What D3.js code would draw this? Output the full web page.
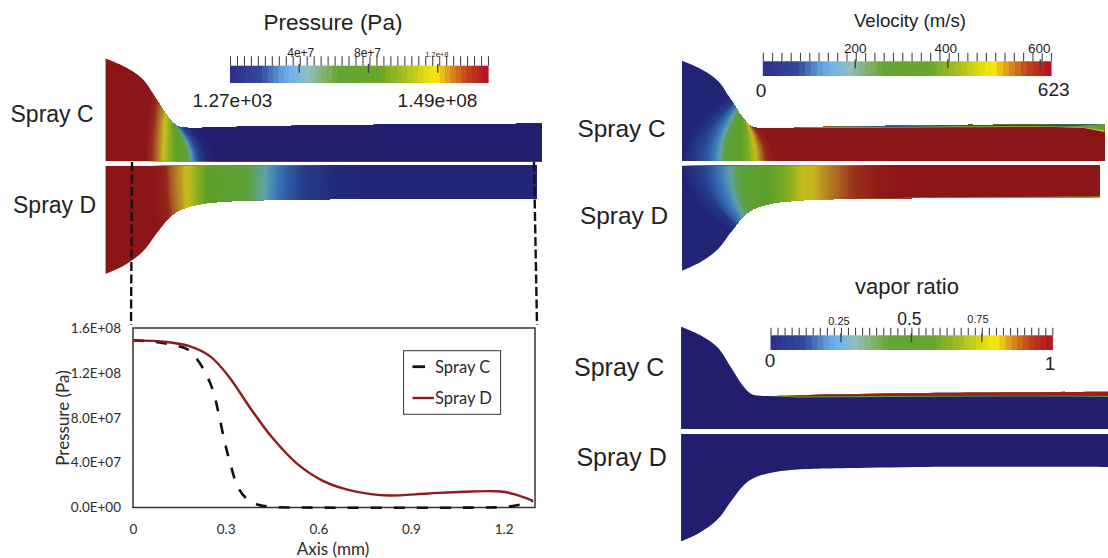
<!DOCTYPE html>
<html>
<head>
<meta charset="utf-8">
<script src="https://cdn.jsdelivr.net/npm/d3@7"></script>
<style>
    body { margin: 0; background: #fff; }
    svg { display: block; }
    text { fill: #222; font-family: "Liberation Sans", Arial, sans-serif; }
    .chart text { font-family: Lato, sans-serif; fill: #2b2b2b; }
</style>
</head>
<body>
<div id="chart"></div>
<script>
// line chart: pressure along the axis
const axisMm = [0, 0.067, 0.142, 0.177, 0.2, 0.229, 0.258, 0.277, 0.298, 0.315, 0.339, 0.367, 0.402, 0.448, 0.55, 1.13, 1.21, 1.257, 1.295];
const sprayCPressure = [1.49e8, 1.478e8, 1.442e8, 1.41e8, 1.347e8, 1.228e8, 1.05e8, 0.84e8, 0.572e8, 0.393e8, 0.185e8, 0.08e8, 0.027e8, 0.006e8, 0, 0, 0.006e8, 0.027e8, 0.06e8];
const axisMmD = [0, 0.1, 0.18, 0.25, 0.31, 0.38, 0.448, 0.53, 0.61, 0.68, 0.77, 0.83, 0.957, 1.07, 1.19, 1.234, 1.295];
const sprayDPressure = [1.49e8, 1.478e8, 1.44e8, 1.347e8, 1.168e8, 0.885e8, 0.632e8, 0.393e8, 0.244e8, 0.17e8, 0.119e8, 0.107e8, 0.125e8, 0.14e8, 0.143e8, 0.119e8, 0.06e8];
const xTicks = [0, 0.3, 0.6, 0.9, 1.2];
const xTickLabels = ["0", "0.3", "0.6", "0.9", "1.2"];
const yTicks = [0, 4e7, 8e7, 1.2e8, 1.6e8];
const yTickLabels = ["0.0E+00", "4.0E+07", "8.0E+07", "1.2E+08", "1.6E+08"];

// nozzle walls, axial position and radius in mm
const wallAxialC = [-0.085, -0.023, 0.035, 0.08, 0.116, 0.145, 0.174, 0.38, 0.724, 1.319];
const wallRadiusC = [0.332, 0.305, 0.265, 0.198, 0.143, 0.114, 0.108, 0.112, 0.117, 0.121];
const wallAxialD = [-0.085, -0.023, 0.035, 0.08, 0.122, 0.161, 0.219, 0.322, 0.438, 0.724, 1.303];
const wallRadiusD = [0.349, 0.32, 0.277, 0.217, 0.165, 0.14, 0.124, 0.114, 0.111, 0.107, 0.107];
const vaporWallAxialD = [-0.085, -0.023, 0.035, 0.08, 0.122, 0.161, 0.219, 0.322, 0.438, 0.724, 1.33];

// contour fields: normalised value on the axis, and how far an isoline leans at the wall
const pressureAxialC = [-0.09, 0.04, 0.06, 0.09, 0.1, 0.125, 0.16, 0.18, 0.195, 0.21, 0.24, 0.27, 1.4];
const pressureValueC = [1, 1, 0.93, 0.8, 0.74, 0.58, 0.44, 0.34, 0.24, 0.14, 0.03, 0, 0];
const pressureBendC = [0.005, 0.005, 0.005, 0.005, 0.004, 0, -0.02, -0.035, -0.05, -0.055, -0.06, -0.06, 0];
const pressureAxialD = [-0.09, 0.06, 0.1, 0.12, 0.155, 0.175, 0.2, 0.235, 0.32, 0.37, 0.42, 0.455, 0.5, 0.56, 0.66, 0.8, 1.4];
const pressureValueD = [1, 1, 0.96, 0.88, 0.8, 0.74, 0.64, 0.52, 0.42, 0.36, 0.29, 0.24, 0.17, 0.1, 0.04, 0.02, 0.02];
const pressureBendD = [0.005, 0.005, 0.005, 0.005, 0.004, 0.002, 0, 0, -0.004, -0.005, -0.005, -0.005, -0.005, -0.005, 0, 0, 0];
const velocityAxialC = [-0.09, -0.082, -0.032, 0, 0.035, 0.067, 0.134, 0.157, 0.174, 0.2, 0.224, 1.4];
const velocityValueC = [0.02, 0.03, 0.12, 0.17, 0.27, 0.4, 0.58, 0.74, 0.84, 0.96, 1, 1];
const velocityBendC = [0.04, 0.04, 0.04, 0.03, 0.025, 0.018, -0.005, -0.02, -0.03, -0.045, -0.05, 0];
const velocityAxialD = [-0.09, -0.082, -0.032, 0, 0.067, 0.09, 0.134, 0.257, 0.317, 0.347, 0.39, 0.476, 0.566, 0.64, 1.4];
const velocityValueD = [0.02, 0.03, 0.1, 0.15, 0.27, 0.33, 0.42, 0.58, 0.73, 0.76, 0.82, 0.91, 0.98, 1, 1];
const velocityBendD = [0.04, 0.04, 0.04, 0.03, 0.02, 0.015, 0.01, 0, 0, 0, 0, 0, 0, 0, 0];
const vaporAxial = [-0.09, 1.4];
const vaporValue = [0, 0];
const vaporBend = [0, 0];

// thin layers hugging the wall: axial position and thickness in mm
const vaporLayerAxial = [0.17, 0.3, 0.6, 0.9, 1.2, 1.4];
const vaporRedThick = [0, 0.005, 0.008, 0.01, 0.012, 0.015];
const vaporGreenThick = [0, 0.008, 0.011, 0.013, 0.015, 0.018];
const velocityLayerAxial = [0.17, 0.4, 0.8, 1.15, 1.25, 1.32];
const velocityYellowThick = [0, 0.003, 0.006, 0.008, 0.012, 0.026];
const velocityGreenThick = [0, 0.002, 0.005, 0.007, 0.01, 0.02];
const velocityBlueAxial = [0.4, 0.6, 0.9, 1.1, 1.19, 1.3];
const velocityBlueThick = [0, 0.002, 0.003, 0.004, 0.006, 0.001];
const velocityLayerAxialD = [0.3, 0.7, 1.0, 1.303];
const velocityLayerThickD = [0.001, 0.002, 0.003, 0.005];

// colour tables
const fieldStops = [0, 0.12, 0.22, 0.28, 0.36, 0.5, 0.62, 0.72, 0.76, 0.84, 0.92, 1];
const fieldColors = ["#211e70", "#27408f", "#3a78b8", "#5fa3a8", "#5fa03a", "#5ca02a", "#8eb020", "#c0bd1c", "#c8b820", "#b07a24", "#982f1c", "#8c1518"];
const legendStops = [0, 0.12, 0.2, 0.24, 0.3, 0.38, 0.42, 0.58, 0.68, 0.78, 0.8, 0.85, 0.92, 1];
const legendColors = ["#2b2f8c", "#34479b", "#5f9fd8", "#6fb4e8", "#8fbfc0", "#7fae5a", "#62a533", "#6aa62c", "#a9bf1f", "#f0e40f", "#f6e610", "#e09520", "#c0401c", "#b30f22"];

const fieldColor = d3.scaleLinear().domain(fieldStops).range(fieldColors);
const legendColor = d3.scaleLinear().domain(legendStops).range(legendColors);

const svg = d3.select("#chart").append("svg")
    .attr("width", 1108)
    .attr("height", 558);

function nozzleScales(panel) {
    let x = d3.scaleLinear().domain([0, 1]).range([panel.x0, panel.x0 + panel.xScale]);
    let r = d3.scaleLinear().domain([0, 1]).range([panel.axisY, panel.axisY + panel.dir * panel.rScale]);
    return {x: x, r: r};
}

function drawNozzle(panel, id) {
    let s = nozzleScales(panel);
    let wall = d3.scaleLinear().domain(panel.wallAxial).range(panel.wallRadius);
    let first = panel.wallAxial[0];
    let last = panel.wallAxial[panel.wallAxial.length - 1];

    let outline = d3.area()
        .x(d => s.x(d[0]))
        .y0(s.r(0))
        .y1(d => s.r(d[1]))
        .curve(d3.curveCatmullRom);

    svg.append("clipPath").attr("id", id)
        .append("path")
        .attr("d", outline(d3.zip(panel.wallAxial, panel.wallRadius)));

    let g = svg.append("g").attr("clip-path", "url(#" + id + ")");

    let value = d3.scaleLinear().domain(panel.fieldAxial).range(panel.fieldValue).clamp(true);
    let bend = d3.scaleLinear().domain(panel.fieldAxial).range(panel.fieldBend).clamp(true);

    g.append("rect")
        .attr("x", s.x(first) - 2)
        .attr("y", Math.min(s.r(0), s.r(0.4)))
        .attr("width", s.x(last) - s.x(first) + 4)
        .attr("height", Math.abs(s.r(0.4) - s.r(0)))
        .attr("fill", fieldColor(value(-0.1)));

    // each band runs from its isoline to the far end, painted left to right
    let bandLine = d3.line().x(d => s.x(d[0])).y(d => s.r(d[1]));
    let prev = fieldColor(value(-0.1));
    d3.range(-0.1, 1.36, 0.004).forEach(a => {
        let col = fieldColor(value(a));
        if (col === prev) return;
        prev = col;
        let b = bend(a);
        let pts = d3.range(0, 0.38, 0.02).map(rr => {
            let t = (b < 0 ? Math.min(rr, 0.13) : rr) / 0.11;
            return [a + b * t * t, rr];
        });
        pts.push([1.5, 0.36], [1.5, 0]);
        g.append("path").attr("d", bandLine(pts)).attr("fill", col);
    });

    (panel.layers || []).forEach(layer => {
        let band = d3.area()
            .x(d => s.x(d[0]))
            .y0(d => s.r(wall(d[0]) + 0.004))
            .y1(d => s.r(wall(d[0]) - d[1]));
        g.append("path")
            .attr("d", band(d3.zip(layer.axial, layer.thick)))
            .attr("fill", layer.color);
    });
}

function drawColorBar(bar) {
    let x = d3.scaleLinear().domain([0, bar.max]).range([bar.x0, bar.x1]);
    let t = d3.scaleLinear().domain([0, 1]).range([bar.x0, bar.x1]);

    svg.selectAll(null)
        .data(d3.range(48))
        .enter()
        .append("rect")
        .attr("x", d => t(d / 48))
        .attr("y", bar.y0)
        .attr("width", (bar.x1 - bar.x0) / 48 + 0.6)
        .attr("height", bar.y1 - bar.y0)
        .attr("fill", d => legendColor((d + 0.5) / 48));

    let minor = d3.axisTop(t)
        .tickValues(d3.range(bar.minor + 1).map(i => i / bar.minor))
        .tickSize(bar.tick)
        .tickSizeOuter(0)
        .tickFormat("");
    let g = svg.append("g")
        .attr("transform", "translate(0," + bar.y0 + ")")
        .call(minor);
    g.select(".domain").remove();
    g.selectAll("line").attr("stroke", "#444").attr("stroke-width", 1.1);

    svg.selectAll(null)
        .data(bar.major)
        .enter()
        .append("line")
        .attr("x1", d => x(d))
        .attr("x2", d => x(d))
        .attr("y1", bar.y0 - 2)
        .attr("y2", bar.y0 + 7)
        .attr("stroke", "#444")
        .attr("stroke-width", 1.4);

    svg.selectAll(null)
        .data(bar.major)
        .enter()
        .append("text")
        .attr("x", (d, i) => x(d) + bar.labelDx[i])
        .attr("y", (d, i) => bar.labelY[i])
        .attr("text-anchor", "middle")
        .style("font-size", (d, i) => bar.labelSize[i] + "px")
        .text((d, i) => bar.labels[i]);
}

function label(text, x, y, size, anchor) {
    svg.append("text")
        .attr("x", x)
        .attr("y", y)
        .attr("text-anchor", anchor || "start")
        .style("font-size", size + "px")
        .text(text);
}

drawNozzle({x0: 132, xScale: 310.8, rScale: 310, axisY: 161.3, dir: -1, wallAxial: wallAxialC, wallRadius: wallRadiusC,
    fieldAxial: pressureAxialC, fieldValue: pressureValueC, fieldBend: pressureBendC}, "pc");
drawNozzle({x0: 132, xScale: 310.8, rScale: 310, axisY: 165.7, dir: 1, wallAxial: wallAxialD, wallRadius: wallRadiusD,
    fieldAxial: pressureAxialD, fieldValue: pressureValueD, fieldBend: pressureBendD}, "pd");
drawNozzle({x0: 707.6, xScale: 301, rScale: 301, axisY: 160.7, dir: -1, wallAxial: wallAxialC, wallRadius: wallRadiusC,
    fieldAxial: velocityAxialC, fieldValue: velocityValueC, fieldBend: velocityBendC,
    layers: [
        {axial: velocityLayerAxial, thick: velocityYellowThick, color: "#c8c31a"},
        {axial: velocityLayerAxial, thick: velocityGreenThick, color: "#5fa03a"},
        {axial: velocityBlueAxial, thick: velocityBlueThick, color: "#27408f"}
    ]}, "vc");
drawNozzle({x0: 707.6, xScale: 301, rScale: 301, axisY: 165.7, dir: 1, wallAxial: wallAxialD, wallRadius: wallRadiusD,
    fieldAxial: velocityAxialD, fieldValue: velocityValueD, fieldBend: velocityBendD,
    layers: [{axial: velocityLayerAxialD, thick: velocityLayerThickD, color: "#a9b82a"}]}, "vd");
drawNozzle({x0: 707, xScale: 305, rScale: 308, axisY: 429, dir: -1, wallAxial: wallAxialC, wallRadius: wallRadiusC,
    fieldAxial: vaporAxial, fieldValue: vaporValue, fieldBend: vaporBend,
    layers: [
        {axial: vaporLayerAxial, thick: vaporGreenThick, color: "#5f9a55"},
        {axial: vaporLayerAxial, thick: vaporRedThick, color: "#9c1f1c"}
    ]}, "rc");
drawNozzle({x0: 707, xScale: 305, rScale: 308, axisY: 434, dir: 1, wallAxial: vaporWallAxialD, wallRadius: wallRadiusD,
    fieldAxial: vaporAxial, fieldValue: vaporValue, fieldBend: vaporBend}, "rd");

drawColorBar({x0: 230, x1: 488, y0: 65.7, y1: 83, max: 1.49e8, minor: 37, tick: 9.5,
    major: [4e7, 8e7, 1.2e8], labels: ["4e+7", "8e+7", "1.2e+8"],
    labelDx: [1.5, -1, -1], labelY: [56.5, 56.5, 56.5], labelSize: [12, 12, 7.5]});
drawColorBar({x0: 762.8, x1: 1051, y0: 61.3, y1: 76, max: 623, minor: 31, tick: 8.5,
    major: [200, 400, 600], labels: ["200", "400", "600"],
    labelDx: [0, -2, -1], labelY: [53, 53, 53], labelSize: [13.5, 13.5, 13.5]});
drawColorBar({x0: 770.5, x1: 1052.3, y0: 335.3, y1: 350, max: 1, minor: 40, tick: 7.5,
    major: [0.25, 0.5, 0.75], labels: ["0.25", "0.5", "0.75"],
    labelDx: [-2, -2, -4], labelY: [325, 325, 323], labelSize: [11, 17.5, 11]});

label("Pressure (Pa)", 333, 30, 22.5, "middle");
label("Spray C", 10.5, 122, 23);
label("Spray D", 13, 213, 23);
label("1.27e+03", 232.5, 107, 19, "middle");
label("1.49e+08", 437.5, 107, 19, "middle");
label("Velocity (m/s)", 910, 27, 18.7, "middle");
label("0", 761, 97, 19, "middle");
label("623", 1053.7, 96, 19, "middle");
label("Spray C", 577.5, 137, 24.4);
label("Spray D", 580, 224, 24.4);
label("vapor ratio", 907, 294, 22, "middle");
label("0", 770, 367, 19, "middle");
label("1", 1050, 370, 19, "middle");
label("Spray C", 574, 376, 25);
label("Spray D", 576.4, 466, 25);

// dashed guides from the nozzle down to the plot
const plotLeft = 133, plotRight = 535, plotTop = 328, plotBottom = 507.5;
const x = d3.scaleLinear().domain([0, 1.3]).range([plotLeft, plotRight - 0.5]);
const y = d3.scaleLinear().domain([0, 1.6e8]).range([plotBottom, plotTop]);

svg.append("path")
    .style("stroke-dasharray", "9,3.5")
    .attr("fill", "none")
    .attr("stroke", "#111")
    .attr("stroke-width", 2.4)
    .attr("d", "M132 162L131 325M534 162L537 325");

const chart = svg.append("g").attr("class", "chart");

chart.append("rect")
    .attr("x", plotLeft)
    .attr("y", plotTop)
    .attr("width", plotRight - plotLeft)
    .attr("height", plotBottom - plotTop)
    .attr("fill", "#fff")
    .attr("stroke", "#333")
    .attr("stroke-width", 1.5);

const xAxis = chart.append("g")
    .attr("transform", "translate(0," + plotBottom + ")")
    .call(d3.axisBottom(x).tickValues(xTicks).tickSize(0).tickPadding(17).tickFormat((d, i) => xTickLabels[i]));
const yAxis = chart.append("g")
    .attr("transform", "translate(" + plotLeft + ",0)")
    .call(d3.axisLeft(y).tickValues(yTicks).tickSize(0).tickPadding(12).tickFormat((d, i) => yTickLabels[i]));
xAxis.select(".domain").remove();
yAxis.select(".domain").remove();
xAxis.selectAll("text").style("font-size", "13.5px").style("font-family", "Lato");
yAxis.selectAll("text").style("font-size", "13.5px").style("font-family", "Lato");

const curve = d3.line()
    .x(d => x(d[0]))
    .y(d => y(d[1]))
    .curve(d3.curveCatmullRom);

chart.append("path")
    .attr("d", curve(d3.zip(axisMm, sprayCPressure)))
    .attr("fill", "none")
    .attr("stroke", "#111")
    .attr("stroke-width", 2.6)
    .style("stroke-dasharray", "11,12");
chart.append("path")
    .attr("d", curve(d3.zip(axisMmD, sprayDPressure)))
    .attr("fill", "none")
    .attr("stroke", "#8c1c1e")
    .attr("stroke-width", 2.4);

chart.append("text")
    .attr("x", 333)
    .attr("y", 555)
    .attr("text-anchor", "middle")
    .style("font-size", "17px")
    .text("Axis (mm)");
chart.append("text")
    .attr("transform", "translate(69,418) rotate(-90)")
    .attr("text-anchor", "middle")
    .style("font-size", "17px")
    .text("Pressure (Pa)");

// legend box
chart.append("rect")
    .attr("x", 403.6)
    .attr("y", 350.7)
    .attr("width", 97)
    .attr("height", 63.6)
    .attr("fill", "#fff")
    .attr("stroke", "#333")
    .attr("stroke-width", 1);
chart.append("line")
    .attr("x1", 412.5).attr("x2", 425)
    .attr("y1", 366.7).attr("y2", 366.7)
    .attr("stroke", "#111")
    .attr("stroke-width", 2.8);
chart.append("line")
    .attr("x1", 412.5).attr("x2", 434)
    .attr("y1", 398).attr("y2", 398)
    .attr("stroke", "#8c1c1e")
    .attr("stroke-width", 2.4);
chart.append("text").attr("x", 435).attr("y", 372.7).style("font-size", "16.5px").text("Spray C");
chart.append("text").attr("x", 435).attr("y", 404).style("font-size", "16.5px").text("Spray D");
</script>
</body>
</html>
